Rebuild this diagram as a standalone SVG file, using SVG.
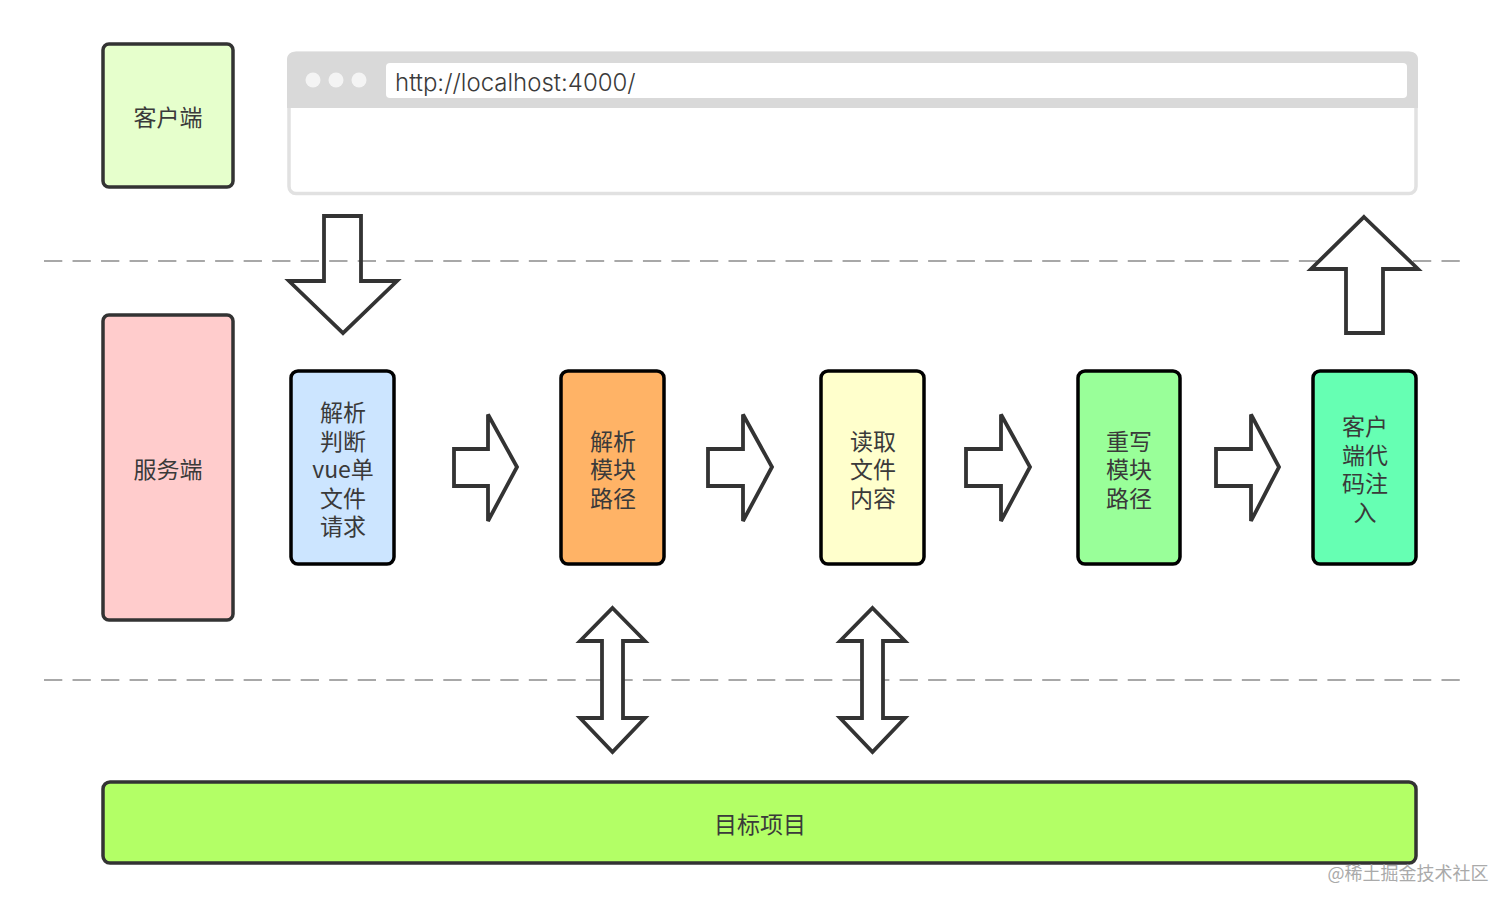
<svg xmlns="http://www.w3.org/2000/svg" width="1512" height="908" viewBox="0 0 1512 908">
<style>
text{font-family:"Noto Sans CJK SC","Noto Sans",sans-serif;font-size:23px;fill:#3a3a3a;text-anchor:middle}
.box{stroke:#333;stroke-width:3.5}
.step{stroke:#000;stroke-width:3.5}
.arrow{fill:#fff;stroke:#333;stroke-width:3.800;stroke-linejoin:miter;stroke-miterlimit:3}
.dash{stroke:#8c8c8c;stroke-width:1.5;stroke-dasharray:18.3 10.22;fill:none}
</style>
<g id="separators">
<line class="dash" x1="44" y1="261" x2="1460" y2="261"/>
<line class="dash" x1="44" y1="680" x2="1460" y2="680"/>
</g>
<g id="client"><rect class="box" x="103" y="44" width="130" height="143" rx="6" fill="#e6ffcc"/><text x="168" y="126">客户端</text></g>
<g id="browser">
<rect x="289" y="53" width="1127" height="140.500" rx="7" fill="#fff" stroke="#e1e1e1" stroke-width="3.500"/>
<path d="M287 108V59a7 7 0 0 1 7-7H1411a7 7 0 0 1 7 7V108Z" fill="#d9d9d9"/>
<rect x="386" y="63" width="1021" height="35" rx="4" fill="#fff"/>
<circle cx="313" cy="80" r="7.500" fill="#f4f4f4"/><circle cx="336" cy="80" r="7.500" fill="#f4f4f4"/><circle cx="359" cy="80" r="7.500" fill="#f4f4f4"/>
<text x="395" y="91" style="font-family:'Inter','Noto Sans',sans-serif;text-anchor:start;font-size:24px;font-weight:300">http://localhost:4000/</text>
</g>
<g id="server"><rect class="box" x="103" y="315" width="130" height="305" rx="6" fill="#ffcccc"/><text x="168" y="478">服务端</text></g>
<g id="parse-request"><rect class="step" x="291" y="371" width="103" height="193" rx="7" fill="#cce5ff"/>
<text y="421"><tspan x="343">解析</tspan><tspan x="343" dy="28.500">判断</tspan><tspan x="343" dy="28.500">vue单</tspan><tspan x="343" dy="28.500">文件</tspan><tspan x="343" dy="28.500">请求</tspan></text></g>
<g id="parse-path"><rect class="step" x="561" y="371" width="103" height="193" rx="7" fill="#ffb366"/>
<text y="449.500"><tspan x="613">解析</tspan><tspan x="613" dy="28.500">模块</tspan><tspan x="613" dy="28.500">路径</tspan></text></g>
<g id="read-file"><rect class="step" x="821" y="371" width="103" height="193" rx="7" fill="#ffffcc"/>
<text y="449.500"><tspan x="873">读取</tspan><tspan x="873" dy="28.500">文件</tspan><tspan x="873" dy="28.500">内容</tspan></text></g>
<g id="rewrite-path"><rect class="step" x="1078" y="371" width="102" height="193" rx="7" fill="#99ff99"/>
<text y="449.500"><tspan x="1129">重写</tspan><tspan x="1129" dy="28.500">模块</tspan><tspan x="1129" dy="28.500">路径</tspan></text></g>
<g id="inject-client"><rect class="step" x="1313" y="371" width="103" height="193" rx="7" fill="#66ffb3"/>
<text y="435"><tspan x="1365">客户</tspan><tspan x="1365" dy="28.500">端代</tspan><tspan x="1365" dy="28.500">码注</tspan><tspan x="1365" dy="28.500">入</tspan></text></g>
<g id="target"><rect class="box" x="103" y="782" width="1313" height="81" rx="7" fill="#b3ff66"/><text x="760" y="833">目标项目</text></g>
<g id="connectors">
<path class="arrow" style="fill:none" d="M324 216H361V281H397L343 333L289 281H324Z"/>
<path class="arrow" d="M1364 217L1418 269H1383V333H1346V269H1311Z"/>
<path class="arrow" d="M454 449H488V414.500L517 467L488 521V486H454Z"/>
<path class="arrow" d="M708 449H743V414.500L772 467L743 521V486H708Z"/>
<path class="arrow" d="M966 449H1001V414.500L1030 467L1001 521V486H966Z"/>
<path class="arrow" d="M1216 449H1251V414.500L1279 467L1251 521V486H1216Z"/>
<path class="arrow" d="M612.500 608L645 641H623V718H645L612.500 752L580 718H602V641H580Z"/>
<path class="arrow" d="M872.500 608L905 641H883V718H905L872.500 752L840 718H862V641H840Z"/>
</g>
<text id="watermark" x="1408" y="880" style="font-size:18px;fill:#aaa">@稀土掘金技术社区</text>
</svg>
